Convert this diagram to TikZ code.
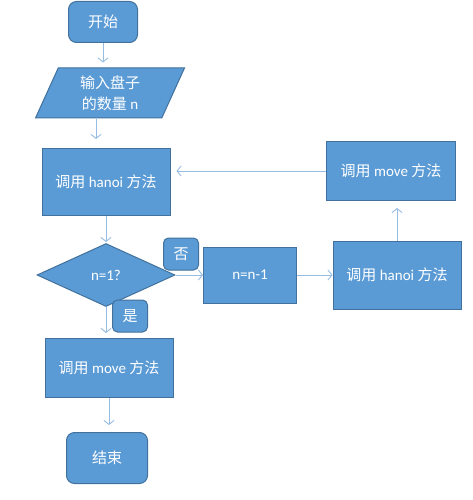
\documentclass[tikz,border=0pt]{standalone}
\usepackage{fontspec}
\setmainfont{Carlito}
\newfontfamily\cjk{Noto Sans CJK SC}
\usetikzlibrary{arrows.meta,shapes.geometric,positioning}
\definecolor{boxblue}{RGB}{91,155,213}
\definecolor{boxedge}{RGB}{65,113,156}
\definecolor{flowline}{RGB}{150,188,226}

\begin{document}
\begin{tikzpicture}[x=1pt,y=-1pt,
  every node/.style={font=\fontsize{15}{21}\selectfont,text=white},
  block/.style={draw=boxedge,fill=boxblue,line width=1pt,inner sep=0pt},
  term/.style={block,rounded corners=8pt},
  tag/.style={block,rounded corners=5pt,minimum width=35pt,minimum height=32pt},
  flow/.style={->,flowline,line width=0.9pt,>={Straight Barb[length=4pt,width=10pt]}}]

\useasboundingbox (0,0) rectangle (473,500);

%% ── main column ─────────────────────────────────────────────────────────────
\node[term,minimum width=69pt,minimum height=41pt] (start) at (103,22) {\cjk 开始};

\node[block,trapezium,trapezium left angle=57,trapezium right angle=123,
  trapezium stretches body,minimum width=149pt,minimum height=50pt,align=center]
  (input) at (110,93) {{\cjk 输入盘子}\\{\cjk 的数量} n};

\node[block,minimum width=128pt,minimum height=67pt] (hanoi1) at (106,182)
  {{\cjk 调用} hanoi {\cjk 方法}};

\node[block,diamond,aspect=2.2,minimum width=138pt,minimum height=63pt] (check) at (106,275)
  {n=1?};

\node[block,minimum width=128pt,minimum height=59pt] (move1) at (109,368)
  {{\cjk 调用} move {\cjk 方法}};

\node[term,minimum width=81pt,minimum height=51pt] (stop) at (107,458) {\cjk 结束};

%% ── recursion branch ────────────────────────────────────────────────────────
\node[block,minimum width=93pt,minimum height=56pt] (dec) at (250,275) {n=n-1};

\node[block,minimum width=128pt,minimum height=68pt] (hanoi2) at (397,275)
  {{\cjk 调用} hanoi {\cjk 方法}};

\node[block,minimum width=129pt,minimum height=59pt] (move2) at (391,171)
  {{\cjk 调用} move {\cjk 方法}};

%% ── connectors ──────────────────────────────────────────────────────────────
\draw[flow,shorten >=5pt] (start) -- (start.south |- input.north);
\draw[flow,shorten >=9pt] ([xshift=-14pt]input.south) -- ([xshift=-14pt]input.south |- hanoi1.north);
\draw[flow,shorten >=1pt] (hanoi1) -- (check);
\draw[flow] (check.east) -- (dec.west);
\draw[flow] (dec) -- (hanoi2);
\draw[flow,shorten >=7pt] (hanoi2.north) -- (hanoi2.north |- move2.south);
\draw[flow,shorten >=6pt] (move2.west) -- (move2.west -| hanoi1.east);
\draw[flow,shorten >=5pt] (check.south) -- (check.south |- move1.north);
\draw[flow,shorten >=7pt] (move1.south) -- (move1.south |- stop.north);

%% ── branch tags ─────────────────────────────────────────────────────────────
\node[tag] (no) at (181,254) {\cjk 否};
\node[tag] (yes) at (130,316) {\cjk 是};

\end{tikzpicture}
\end{document}
